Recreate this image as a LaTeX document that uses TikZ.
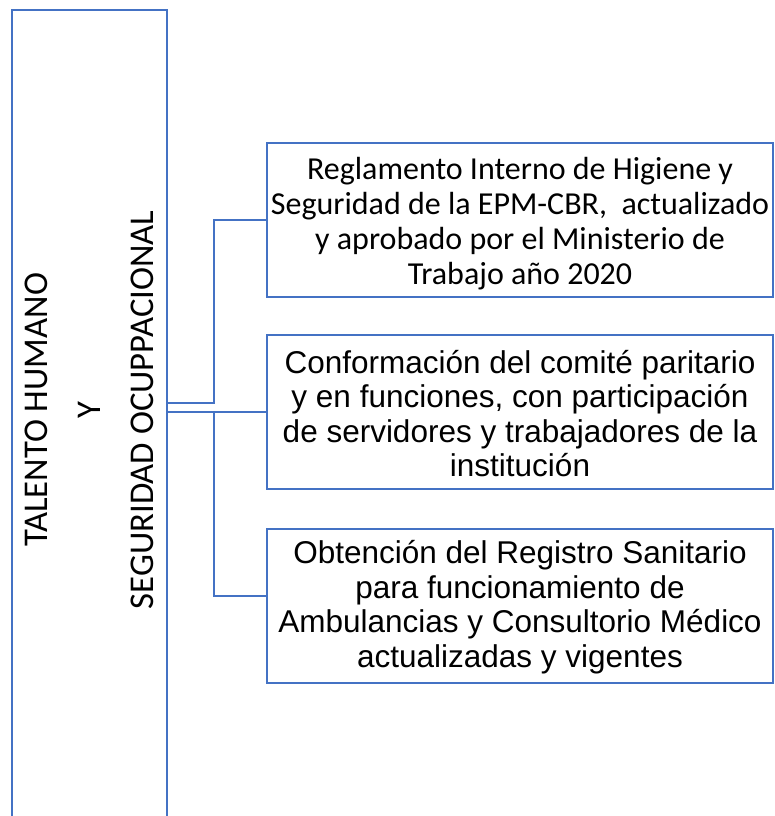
\documentclass[tikz,border=0pt]{standalone}
\usepackage{fontspec}
\setmainfont{Carlito}
\newfontfamily\arialf{Liberation Sans}
\newfontfamily\calf{Carlito}
\definecolor{offblue}{HTML}{4472C4}
\begin{document}
\begin{tikzpicture}[x=1pt,y=1pt,
  boxline/.style={draw=offblue, line width=2pt},
  conn/.style={draw=offblue, line width=2pt},
  itembox/.style={boxline, rectangle, minimum width=506pt, minimum height=154pt, inner sep=0pt},
  itemtext/.style={align=center, inner sep=0pt},
]
\useasboundingbox (0,0) rectangle (775,816);
\clip (0,0) rectangle (775,816);
% left tall box (extends beyond bottom)
\node[boxline, rectangle, minimum width=155pt, minimum height=836pt, inner sep=0pt] (left) at (89.5,388) {};
\node[rotate=90, align=center, font=\calf\fontsize{34.7}{53}\selectfont] (title) at (89,406)
  {TALENTO HUMANO\\Y\\SEGURIDAD OCUPPACIONAL};
% item boxes
\node[itembox] (b1) at (520,596) {};
\node[itemtext, font=\calf\fontsize{32}{35}\selectfont] (t1) at ([yshift=-4pt]b1.center)
  {Reglamento Interno de Higiene y\\Seguridad de la EPM-CBR,\ \ actualizado\\y aprobado por el Ministerio de\\Trabajo año 2020};
\node[itembox] (b2) at (520,403.5) {};
\node[itemtext, font=\arialf\fontsize{31.5}{34.5}\selectfont] (t2) at ([yshift=-1pt]b2.center)
  {Conformación del comité paritario\\y en funciones, con participación\\de servidores y trabajadores de la\\institución};
\node[itembox] (b3) at (520,210) {};
\node[itemtext, font=\arialf\fontsize{31.5}{34.5}\selectfont] (t3) at ([yshift=-1pt]b3.center)
  {Obtención del Registro Sanitario\\para funcionamiento de\\Ambulancias y Consultorio Médico\\actualizadas y vigentes};
% connectors
\coordinate (s1) at (0,413);
\coordinate (m) at (214,0);
\coordinate (y3) at (0,220);
\draw[conn] (left.east |- s1) -| (m |- b1.west) -- (b1.west);
\draw[conn] (left.east |- b2.west) -- (b2.west);
\draw[conn] (m |- b2.west) |- (b3.west |- y3);
\end{tikzpicture}
\end{document}
